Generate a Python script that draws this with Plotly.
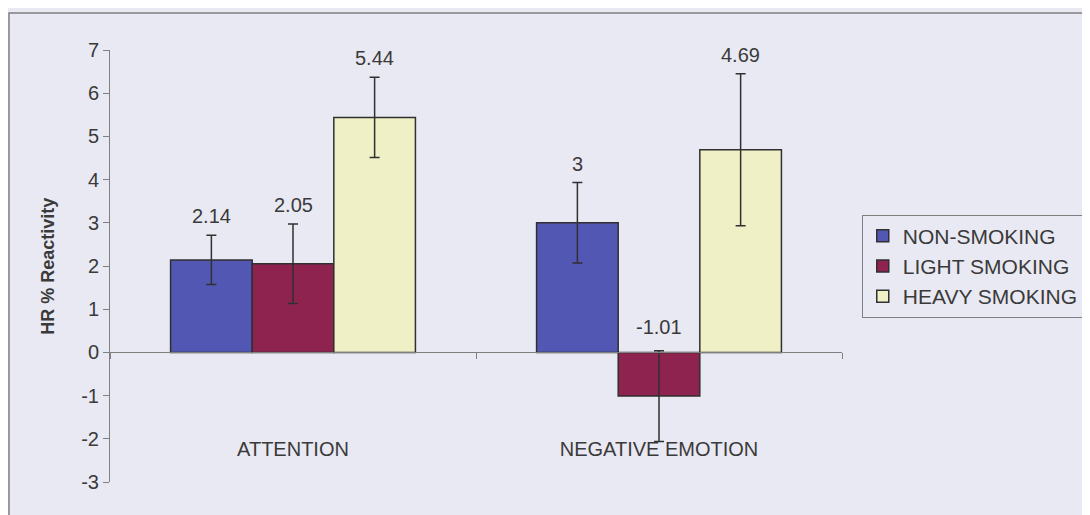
import plotly.graph_objects as go

categories = ["ATTENTION", "NEGATIVE EMOTION"]
series_names = ["NON-SMOKING", "LIGHT SMOKING", "HEAVY SMOKING"]
values = {
    "NON-SMOKING": [2.14, 3.00],
    "LIGHT SMOKING": [2.05, -1.01],
    "HEAVY SMOKING": [5.44, 4.69],
}
errors = {
    "NON-SMOKING": [0.57, 0.93],
    "LIGHT SMOKING": [0.92, 1.05],
    "HEAVY SMOKING": [0.93, 1.76],
}
labels = {
    "NON-SMOKING": ["2.14", "3"],
    "LIGHT SMOKING": ["2.05", "-1.01"],
    "HEAVY SMOKING": ["5.44", "4.69"],
}
colors = {
    "NON-SMOKING": "#5257b3",
    "LIGHT SMOKING": "#8e2350",
    "HEAVY SMOKING": "#eff0c6",
}
y_ticks = [-3, -2, -1, 0, 1, 2, 3, 4, 5, 6, 7]
y_ticktext = [str(t) for t in y_ticks]

BG = "#e9e9f3"
FONT = "Liberation Sans, Arial, sans-serif"
TXT = "#3a3a3a"
FS = 20

fig = go.Figure()
for name in series_names:
    fig.add_trace(go.Bar(
        name=name, x=categories, y=values[name],
        marker=dict(color=colors[name], line=dict(color="#303030", width=1.5)),
        error_y=dict(type="data", array=errors[name], visible=True,
                     color="#303030", thickness=1.5, width=5),
    ))

# data labels above error bars
offsets = {"NON-SMOKING": -1, "LIGHT SMOKING": 0, "HEAVY SMOKING": 1}
bar_w = (1 - 0.331) / 3
for name in series_names:
    for i, cat in enumerate(categories):
        v = values[name][i]
        e = errors[name][i]
        top = max(v + e, 0)
        fig.add_annotation(
            x=i + offsets[name] * bar_w, y=top, xref="x", yref="y",
            text=labels[name][i], showarrow=False, yanchor="bottom",
            yshift=6 if v >= 0 else 11,
            font=dict(family=FONT, size=FS, color=TXT),
        )

# y-axis title
fig.add_annotation(
    x=-0.085, y=0.5, xref="paper", yref="paper", text="<b>HR % Reactivity</b>",
    textangle=-90, showarrow=False, xanchor="center", yanchor="middle",
    font=dict(family=FONT, size=18, color=TXT),
)

# outer chart border
fig.add_shape(type="rect", xref="paper", yref="paper",
              x0=-0.138, x1=1.6, y0=-0.5, y1=1.0856,
              line=dict(color="#808080", width=1.5), fillcolor="rgba(0,0,0,0)",
              layer="below")

fig.update_layout(
    width=1090, height=515,
    margin=dict(l=102, r=256, t=42, b=41),
    paper_bgcolor=BG, plot_bgcolor=BG,
    barmode="group", bargap=0.331, bargroupgap=0,
    showlegend=True,
    legend=dict(x=1.027, xanchor="left", y=0.5, yanchor="middle",
                bgcolor=BG, bordercolor="#808080", borderwidth=1,
                font=dict(family=FONT, size=21, color=TXT),
                itemwidth=30, tracegroupgap=0),
    font=dict(family=FONT, size=FS, color=TXT),
    xaxis=dict(
        type="category", range=[-0.5, 1.5],
        anchor="free", position=0.3,
        showline=True, linecolor="#808080", linewidth=1,
        ticks="outside", tickson="boundaries", ticklen=6, tickcolor="#808080",
        ticklabelstandoff=79, showgrid=False, zeroline=False,
        tickfont=dict(family=FONT, size=FS, color=TXT),
    ),
    yaxis=dict(
        range=[-3, 7], tickvals=y_ticks, ticktext=y_ticktext,
        showline=True, linecolor="#808080",
        linewidth=1, ticks="outside", ticklen=6, tickcolor="#808080",
        showgrid=False, zeroline=False,
        tickfont=dict(family=FONT, size=FS, color=TXT),
    ),
)

fig.write_html("out.html")
